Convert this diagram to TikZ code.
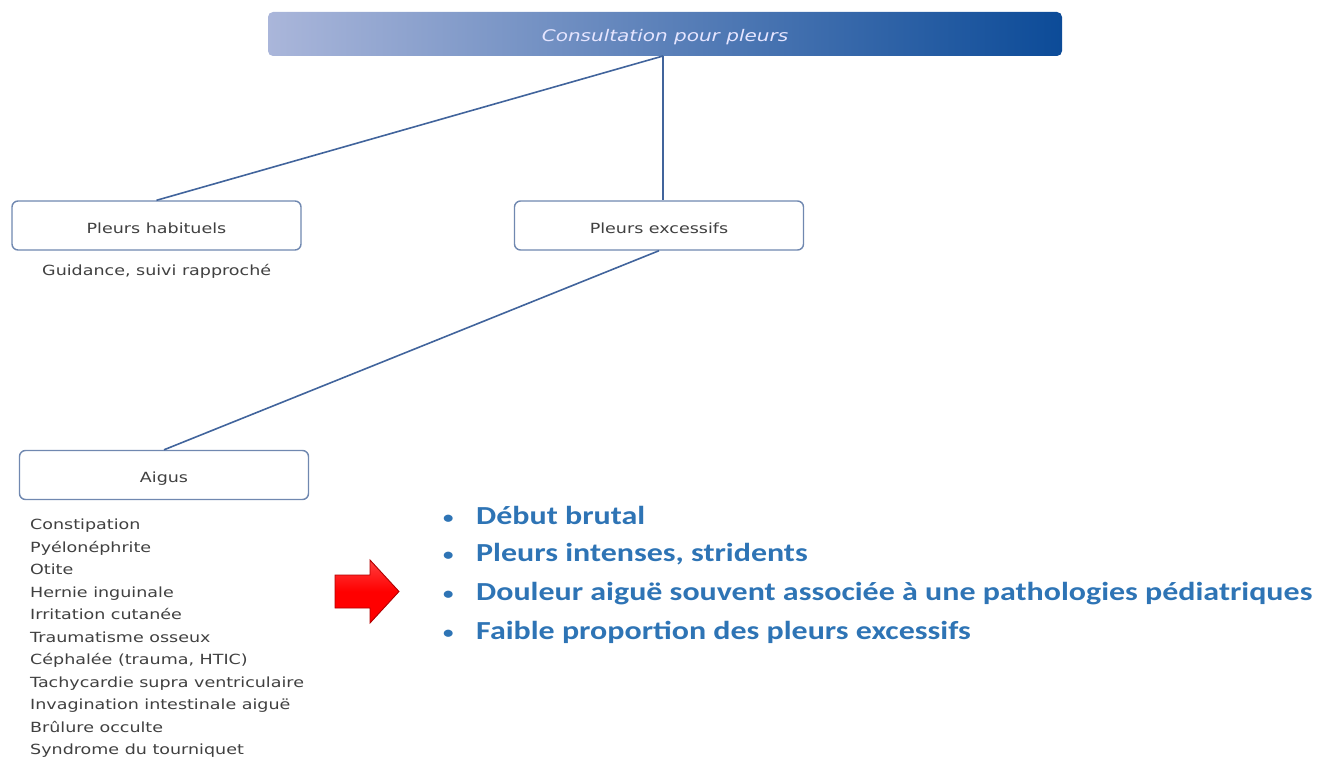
\documentclass[tikz,border=0pt]{standalone}
\usepackage{fontspec}
\setmainfont[FakeStretch=1.25]{DejaVu Sans}
\newfontfamily\calib[FakeStretch=1.23]{Carlito}
\definecolor{barlight}{HTML}{AAB6DA}
\definecolor{barmid}{HTML}{6A84C0}
\definecolor{bardark}{HTML}{0C4B98}
\definecolor{boxline}{HTML}{7088B0}
\definecolor{linkcol}{HTML}{41649C}
\definecolor{txtgrey}{HTML}{404040}
\definecolor{bulblue}{HTML}{2E74B5}
\definecolor{arrowred}{HTML}{FF0000}
\definecolor{arrowedge}{HTML}{B00000}
\tikzset{
  catbox/.style={draw=boxline, line width=1.4pt, rounded corners=6pt, fill=white,
    minimum width=289pt, minimum height=49pt, inner sep=0pt,
    text height=15pt, text depth=0pt,
    font=\fontsize{14}{16}\selectfont, text=txtgrey},
  link/.style={draw=linkcol, line width=1.6pt},
  plain/.style={font=\fontsize{14}{16}\selectfont, text=txtgrey, inner sep=0pt},
  bullet/.style={font=\calib\bfseries\fontsize{26}{30}\selectfont, text=bulblue, inner sep=0pt, anchor=base west},
}
\newcommand\bul{\makebox[33pt][l]{\raisebox{1pt}{\fontsize{17}{20}\selectfont•}}}
\begin{document}
\begin{tikzpicture}[x=1pt,y=-1pt]
\useasboundingbox (0,0) rectangle (1317,760);
% title bar
\shade[left color=barlight, middle color=barmid, right color=bardark, rounded corners=5pt]
  (268,12) rectangle (1062,56);
\node[font=\itshape\fontsize{16}{18}\selectfont, text=white!90!blue, inner sep=0pt] (bar) at (665,37) {Consultation pour pleurs};
\coordinate (barfoot) at (663,56);
% category boxes
\node[catbox] (hab) at (156.5,225.5) {Pleurs habituels};
\node[catbox] (exc) at (659,225.5) {Pleurs excessifs};
\node[catbox] (aig) at (164,475) {Aigus};
% connectors
\draw[link] (barfoot) -- (hab.north);
\draw[link] (barfoot) -- (barfoot |- exc.north);
\draw[link] (exc.south) -- (aig.north);
% notes under boxes
\node[plain, anchor=base west] (guid) at (42,275) {Guidance, suivi rapproché};
\node[plain, anchor=north west, align=left, font=\fontsize{14}{22.5}\selectfont] (list) at (30,519) {%
Constipation\\
Pyélonéphrite\\
Otite\\
Hernie inguinale\\
Irritation cutanée\\
Traumatisme osseux\\
Céphalée (trauma, HTIC)\\
Tachycardie supra ventriculaire\\
Invagination intestinale aiguë\\
Brûlure occulte\\
Syndrome du tourniquet};
% red arrow
\path[top color=red!75!white, bottom color=arrowred, middle color=arrowred, draw=arrowedge, line width=0.9pt, line join=miter]
  (335,575) -- (370,575) -- (370,560) -- (399,591.5) -- (370,623) -- (370,608) -- (335,608) -- cycle;
% bullet list
\node[bullet] (b1) at (443,524) {\bul Début brutal};
\node[bullet] (b2) at (443,561) {\bul Pleurs intenses, stridents};
\node[bullet] (b3) at (443,600) {\bul Douleur aiguë souvent associée à une pathologies pédiatriques};
\node[bullet] (b4) at (443,639) {\bul Faible proportion des pleurs excessifs};
\end{tikzpicture}
\end{document}
